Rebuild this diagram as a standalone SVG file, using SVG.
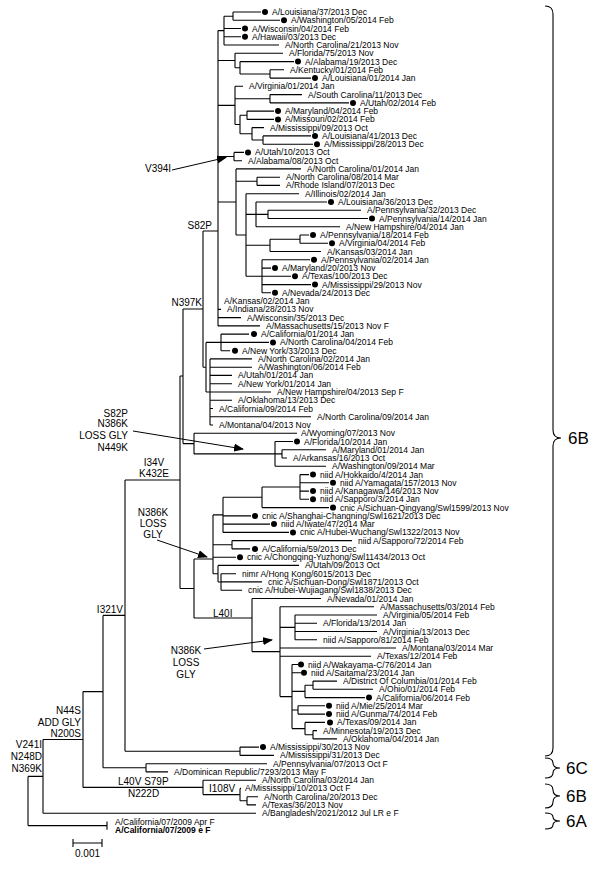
<svg xmlns="http://www.w3.org/2000/svg" width="600" height="869" viewBox="0 0 600 869">
<defs>
<style>
.t{font-family:"Liberation Sans",Arial,sans-serif;font-size:8.5px;fill:#000}
.b{font-weight:bold}
.m{font-family:"Liberation Sans",Arial,sans-serif;font-size:10px;fill:#000}
.c{font-family:"Liberation Sans",Arial,sans-serif;font-size:17px;fill:#000}
.l{stroke:#000;stroke-width:1.1;fill:none}
.br{stroke:#000;stroke-width:1.1;fill:none}
.a{stroke:#000;stroke-width:1;fill:none}
circle{fill:#000}
</style>
<marker id="ah" markerWidth="10" markerHeight="8" refX="9" refY="4" orient="auto" markerUnits="userSpaceOnUse">
<path d="M0,0 L10,4 L0,8 Z" fill="#000"/>
</marker>
</defs>
<rect width="600" height="869" fill="#fff"/>
<g id="connectors" class="l">
<path d="M233 12V20.3 M233 12H261 M233 20.3H280 M224 16.2V45 M224 16.2H233 M224 28.5H241 M224 36.8H241 M224 45H279 M218 30.6H224
M270 69.8V78.1 M270 69.8H284 M270 78.1H311 M240 61.6V74 M240 61.6H294 M240 74H270 M235 53.3V67.8 M235 53.3H283 M235 67.8H240 M218 60.5H235
M270 94.6V102.9 M270 94.6H302 M270 102.9H349 M247 111.1V119.4 M247 111.1H274 M247 119.4H274 M263 135.9V144.2 M263 135.9H311 M263 144.2H313
M252 127.6V140 M252 127.6H264 M252 140H263 M240 115.2V133.8 M240 115.2H247 M240 133.8H252 M235 86.3V124.5 M235 86.3H243 M235 98.7H270 M235 124.5H240 M218 105.4H235
M234 152.4V160.7 M234 152.4H244 M234 160.7H242 M218 156.5H234
M236 168.9H301 M257 177.2V185.4 M257 177.2H280 M257 185.4H280 M236 181.3H257
M268 210.2V218.5 M268 210.2H361 M268 218.5H368 M256 202V226.8 M256 202H327 M256 214.4H268 M256 226.8H340
M300 235V243.3 M300 235H309 M300 243.3H328 M270 239.2V251.5 M270 239.2H300 M270 251.5H321
M262 259.8V292.8 M262 259.8H310 M262 268.1H271 M262 276.3H291 M262 284.6H311 M262 292.8H271
M246 193.7V276.3 M246 193.7H299 M246 214.4H256 M246 245.3H270 M246 276.3H262 M236 168.9V235 M236 235H246 M218 202H236
M218 309.4H221 M218 317.6H241 M218 325.9H260 M218 30.6V325.9 M203 231H218
M221 334.1V350.7 M221 334.1H249 M221 342.4H269 M221 350.7H230
M210 358.9V425 M210 358.9H252 M210 367.2H252 M210 375.4H232 M210 383.7H232 M210 392H271 M210 400.2H232 M210 408.5H213 M210 416.7H311 M210 425H213
M206 342.4V392 M206 342.4H221 M206 392H210 M203 231V367.2 M203 367.2H206 M183 309H203
M183 309V443.6 M194 433.3V453.9 M194 433.3H297 M194 453.9H275 M183 443.6H194
M275 441.5V466.3 M275 441.5H293 M275 453.9H282 M275 466.3H326 M282 449.8V458 M282 449.8H326 M282 458H287
M180 376V588.5 M180 376H183 M125 480H180
M300 474.6V499.3 M300 474.6H309 M300 482.8H329 M300 491.1H309 M300 499.3H309 M262 487V507.6 M262 487H300 M262 507.6H329
M223 497.3V532.4 M223 497.3H262 M223 515.9H251 M223 524.1H270 M223 532.4H289 M232 540.6V548.9 M232 540.6H352 M232 548.9H250
M221 573.7V590.2 M221 573.7H236 M221 581.9H262 M221 590.2H242 M218 565.4V582 M218 565.4H299 M218 582H221
M213 514.9V573.7 M213 514.9H223 M213 544.8H232 M213 557.2H236 M213 573.7H218
M194 559V618 M194 559H213 M180 588.5H194 M194 618H252
M252 598.5V651.6 M252 598.5H321 M252 651.6H280 M280 606.7V696.6 M280 606.7H374 M280 627.4H295 M280 648H396 M280 656.3H371 M280 696.6H292
M295 615V639.8 M295 615H377 M295 623.2H317 M295 631.5H377 M295 639.8H317
M292 664.5V728.6 M292 664.5H298 M292 672.8H301 M292 691.4H305 M292 710H298 M292 728.6H305
M313 681.1V689.3 M313 681.1H337 M313 689.3H373 M305 685.2V697.6 M305 685.2H313 M305 697.6H365 M298 705.8V714.1 M298 705.8H325 M298 714.1H325
M313 730.6V738.9 M313 730.6H317 M313 738.9H337 M305 722.4V734.8 M305 722.4H325 M305 734.8H313
M240 747.1V755.4 M240 747.1H259 M240 755.4H274 M125 751.3H240 M125 480V751.3 M103 615.4H125
M146 763.7V771.9 M146 763.7H267 M146 771.9H168 M103 767.8H146 M103 615.4V767.8 M83 691.6H103
M203 780.2V794.6 M203 780.2H256 M203 794.6H240 M240 788.4V800.8 M240 788.4H241 M240 800.8H247 M247 796.7V804.9 M247 796.7H258 M247 804.9H256 M83 787.4H203
M83 691.6V787.4 M43 739.5H83 M43 739.5V813.2 M43 813.2H256 M28 776.4H43 M28 776.4V825.6 M28 825.6H107 M107 821.5V829.7"/>
<path class="a" marker-end="url(#ah)" d="M172 170L226 157.5"/>
<path class="a" marker-end="url(#ah)" d="M133 431L243 449"/>
<path class="a" marker-end="url(#ah)" d="M157 540L207 557"/>
<path class="a" marker-end="url(#ah)" d="M204 649L272 640"/>
</g>
<g id="labels" class="m">
<text x="145" y="172">V394I</text>
<text x="212" y="229" text-anchor="end">S82P</text>
<text x="202" y="306" text-anchor="end">N397K</text>
<g text-anchor="end"><text x="128" y="416.5">S82P</text><text x="128" y="427">N386K</text><text x="128" y="438.5">LOSS GLY</text><text x="128" y="450.5">N449K</text></g>
<g text-anchor="middle"><text x="154" y="465.5">I34V</text><text x="154" y="477">K432E</text></g>
<g text-anchor="middle"><text x="153" y="515.5">N386K</text><text x="153" y="527">LOSS</text><text x="153" y="538">GLY</text></g>
<text x="123" y="612.5" text-anchor="end">I321V</text>
<text x="213" y="616.5">L40I</text>
<g text-anchor="middle"><text x="186" y="653.5">N386K</text><text x="186" y="665.5">LOSS</text><text x="186" y="677.5">GLY</text></g>
<g text-anchor="end"><text x="81" y="713.5">N44S</text><text x="81" y="725.5">ADD GLY</text><text x="81" y="736.5">N200S</text></g>
<g text-anchor="end"><text x="42" y="747.5">V241I</text><text x="42" y="759.5">N248D</text><text x="42" y="771.5">N369K</text></g>
<text x="118" y="784.5">L40V  S79P</text>
<text x="128" y="797">N222D</text>
<text x="209" y="792">I108V</text>
</g>
<g id="leaves" class="t">
<g id="n1"><circle cx="265" cy="12" r="3"/><text x="272" y="15">A/Louisiana/37/2013 Dec</text></g>
<g id="n2"><circle cx="284" cy="20.3" r="3"/><text x="291" y="23.3">A/Washington/05/2014 Feb</text></g>
<g id="n3"><circle cx="245" cy="28.5" r="3"/><text x="252" y="31.5">A/Wisconsin/04/2014 Feb</text></g>
<g id="n4"><circle cx="245" cy="36.8" r="3"/><text x="252" y="39.8">A/Hawaii/03/2013 Dec</text></g>
<g id="n5"><text x="285" y="48">A/North Carolina/21/2013 Nov</text></g>
<g id="n6"><text x="289" y="56.3">A/Florida/75/2013 Nov</text></g>
<g id="n7"><circle cx="298" cy="61.6" r="3"/><text x="305" y="64.6">A/Alabama/19/2013 Dec</text></g>
<g id="n8"><text x="290" y="72.8">A/Kentucky/01/2014 Feb</text></g>
<g id="n9"><circle cx="315" cy="78.1" r="3"/><text x="322" y="81.1">A/Louisiana/01/2014 Jan</text></g>
<g id="n10"><text x="249" y="89.3">A/Virginia/01/2014 Jan</text></g>
<g id="n11"><text x="308" y="97.6">A/South Carolina/11/2013 Dec</text></g>
<g id="n12"><circle cx="353" cy="102.9" r="3"/><text x="360" y="105.9">A/Utah/02/2014 Feb</text></g>
<g id="n13"><circle cx="278" cy="111.1" r="3"/><text x="285" y="114.1">A/Maryland/04/2014 Feb</text></g>
<g id="n14"><circle cx="278" cy="119.4" r="3"/><text x="285" y="122.4">A/Missouri/02/2014 Feb</text></g>
<g id="n15"><text x="270" y="130.6">A/Mississippi/09/2013 Oct</text></g>
<g id="n16"><circle cx="315" cy="135.9" r="3"/><text x="322" y="138.9">A/Louisiana/41/2013 Dec</text></g>
<g id="n17"><circle cx="317" cy="144.2" r="3"/><text x="324" y="147.2">A/Mississippi/28/2013 Dec</text></g>
<g id="n18"><circle cx="248" cy="152.4" r="3"/><text x="255" y="155.4">A/Utah/10/2013 Oct</text></g>
<g id="n19"><text x="248" y="163.7">A/Alabama/08/2013 Oct</text></g>
<g id="n20"><text x="307" y="171.9">A/North Carolina/01/2014 Jan</text></g>
<g id="n21"><text x="286" y="180.2">A/North Carolina/08/2014 Mar</text></g>
<g id="n22"><text x="286" y="188.4">A/Rhode Island/07/2013 Dec</text></g>
<g id="n23"><text x="305" y="196.7">A/Illinois/02/2014 Jan</text></g>
<g id="n24"><circle cx="331" cy="202" r="3"/><text x="338" y="205">A/Louisiana/36/2013 Dec</text></g>
<g id="n25"><text x="367" y="213.2">A/Pennsylvania/32/2013 Dec</text></g>
<g id="n26"><circle cx="372" cy="218.5" r="3"/><text x="379" y="221.5">A/Pennsylvania/14/2014 Jan</text></g>
<g id="n27"><text x="346" y="229.8">A/New Hampshire/04/2014 Jan</text></g>
<g id="n28"><circle cx="313" cy="235" r="3"/><text x="320" y="238">A/Pennsylvania/18/2014 Feb</text></g>
<g id="n29"><circle cx="332" cy="243.3" r="3"/><text x="339" y="246.3">A/Virginia/04/2014 Feb</text></g>
<g id="n30"><text x="327" y="254.5">A/Kansas/03/2014 Jan</text></g>
<g id="n31"><circle cx="314" cy="259.8" r="3"/><text x="321" y="262.8">A/Pennsylvania/02/2014 Jan</text></g>
<g id="n32"><circle cx="275" cy="268.1" r="3"/><text x="282" y="271.1">A/Maryland/20/2013 Nov</text></g>
<g id="n33"><circle cx="295" cy="276.3" r="3"/><text x="302" y="279.3">A/Texas/100/2013 Dec</text></g>
<g id="n34"><circle cx="315" cy="284.6" r="3"/><text x="322" y="287.6">A/Mississippi/29/2013 Nov</text></g>
<g id="n35"><circle cx="275" cy="292.8" r="3"/><text x="282" y="295.8">A/Nevada/24/2013 Dec</text></g>
<g id="n36"><text x="224" y="304.1">A/Kansas/02/2014 Jan</text></g>
<g id="n37"><text x="227" y="312.4">A/Indiana/28/2013 Nov</text></g>
<g id="n38"><text x="247" y="320.6">A/Wisconsin/35/2013 Dec</text></g>
<g id="n39"><text x="266" y="328.9">A/Massachusetts/15/2013 Nov F</text></g>
<g id="n40"><circle cx="254" cy="334.1" r="3"/><text x="261" y="337.1">A/California/01/2014 Jan</text></g>
<g id="n41"><circle cx="273" cy="342.4" r="3"/><text x="280" y="345.4">A/North Carolina/04/2014 Feb</text></g>
<g id="n42"><circle cx="235" cy="350.7" r="3"/><text x="242" y="353.7">A/New York/33/2013 Dec</text></g>
<g id="n43"><text x="258" y="361.9">A/North Carolina/02/2014 Jan</text></g>
<g id="n44"><text x="258" y="370.2">A/Washington/06/2014 Feb</text></g>
<g id="n45"><text x="238" y="378.4">A/Utah/01/2014 Jan</text></g>
<g id="n46"><text x="238" y="386.7">A/New York/01/2014 Jan</text></g>
<g id="n47"><text x="277" y="395">A/New Hampshire/04/2013 Sep F</text></g>
<g id="n48"><text x="238" y="403.2">A/Oklahoma/13/2013 Dec</text></g>
<g id="n49"><text x="219" y="411.5">A/California/09/2014 Feb</text></g>
<g id="n50"><text x="317" y="419.7">A/North Carolina/09/2014 Jan</text></g>
<g id="n51"><text x="219" y="428">A/Montana/04/2013 Nov</text></g>
<g id="n52"><text x="301" y="436.3">A/Wyoming/07/2013 Nov</text></g>
<g id="n53"><circle cx="297" cy="441.5" r="3"/><text x="304" y="444.5">A/Florida/10/2014 Jan</text></g>
<g id="n54"><text x="332" y="452.8">A/Maryland/01/2014 Jan</text></g>
<g id="n55"><text x="293" y="461">A/Arkansas/16/2013 Oct</text></g>
<g id="n56"><text x="332" y="469.3">A/Washington/09/2014 Mar</text></g>
<g id="n57"><circle cx="313" cy="474.6" r="3"/><text x="320" y="477.6">niid A/Hokkaido/4/2014 Jan</text></g>
<g id="n58"><circle cx="333" cy="482.8" r="3"/><text x="340" y="485.8">niid A/Yamagata/157/2013 Nov</text></g>
<g id="n59"><circle cx="313" cy="491.1" r="3"/><text x="320" y="494.1">niid A/Kanagawa/146/2013 Nov</text></g>
<g id="n60"><circle cx="313" cy="499.3" r="3"/><text x="320" y="502.3">niid A/Sapporo/3/2014 Jan</text></g>
<g id="n61"><circle cx="333" cy="507.6" r="3"/><text x="340" y="510.6">cnic A/Sichuan-Qingyang/Swl1599/2013 Nov</text></g>
<g id="n62"><circle cx="255" cy="515.9" r="3"/><text x="262" y="518.9">cnic A/Shanghai-Changning/Swl1621/2013 Dec</text></g>
<g id="n63"><circle cx="274" cy="524.1" r="3"/><text x="281" y="527.1">niid A/Iwate/47/2014 Mar</text></g>
<g id="n64"><circle cx="293" cy="532.4" r="3"/><text x="300" y="535.4">cnic A/Hubei-Wuchang/Swl1322/2013 Nov</text></g>
<g id="n65"><text x="358" y="543.6">niid A/Sapporo/72/2014 Feb</text></g>
<g id="n66"><circle cx="255" cy="548.9" r="3"/><text x="262" y="551.9">A/California/59/2013 Dec</text></g>
<g id="n67"><circle cx="240" cy="557.2" r="3"/><text x="247" y="560.2">cnic A/Chongqing-Yuzhong/Swl11434/2013 Oct</text></g>
<g id="n68"><text x="305" y="568.4">A/Utah/09/2013 Oct</text></g>
<g id="n69"><text x="242" y="576.7">nimr A/Hong Kong/6015/2013 Dec</text></g>
<g id="n70"><text x="268" y="584.9">cnic A/Sichuan-Dong/Swl1871/2013 Oct</text></g>
<g id="n71"><text x="248" y="593.2">cnic A/Hubei-Wujiagang/Swl1838/2013 Dec</text></g>
<g id="n72"><text x="327" y="601.5">A/Nevada/01/2014 Jan</text></g>
<g id="n73"><text x="380" y="609.7">A/Massachusetts/03/2014 Feb</text></g>
<g id="n74"><text x="383" y="618">A/Virginia/05/2014 Feb</text></g>
<g id="n75"><text x="323" y="626.2">A/Florida/13/2014 Jan</text></g>
<g id="n76"><text x="383" y="634.5">A/Virginia/13/2013 Dec</text></g>
<g id="n77"><text x="323" y="642.8">niid A/Sapporo/81/2014 Feb</text></g>
<g id="n78"><text x="402" y="651">A/Montana/03/2014 Mar</text></g>
<g id="n79"><text x="377" y="659.3">A/Texas/12/2014 Feb</text></g>
<g id="n80"><circle cx="301" cy="664.5" r="3"/><text x="308" y="667.5">niid A/Wakayama-C/76/2014 Jan</text></g>
<g id="n81"><circle cx="304" cy="672.8" r="3"/><text x="311" y="675.8">niid A/Saitama/23/2014 Jan</text></g>
<g id="n82"><text x="343" y="684.1">A/District Of Columbia/01/2014 Feb</text></g>
<g id="n83"><text x="379" y="692.3">A/Ohio/01/2014 Feb</text></g>
<g id="n84"><circle cx="369" cy="697.6" r="3"/><text x="376" y="700.6">A/California/06/2014 Feb</text></g>
<g id="n85"><circle cx="329" cy="705.8" r="3"/><text x="336" y="708.8">niid A/Mie/25/2014 Mar</text></g>
<g id="n86"><circle cx="329" cy="714.1" r="3"/><text x="336" y="717.1">niid A/Gunma/74/2014 Feb</text></g>
<g id="n87"><circle cx="330" cy="722.4" r="3"/><text x="337" y="725.4">A/Texas/09/2014 Jan</text></g>
<g id="n88"><text x="323" y="733.6">A/Minnesota/19/2013 Dec</text></g>
<g id="n89"><text x="343" y="741.9">A/Oklahoma/04/2014 Jan</text></g>
<g id="n90"><circle cx="263" cy="747.1" r="3"/><text x="270" y="750.1">A/Mississippi/30/2013 Nov</text></g>
<g id="n91"><text x="280" y="758.4">A/Mississippi/31/2013 Dec</text></g>
<g id="n92"><text x="273" y="766.7">A/Pennsylvania/07/2013 Oct F</text></g>
<g id="n93"><text x="174" y="774.9">A/Dominican Republic/7293/2013 May F</text></g>
<g id="n94"><text x="262" y="783.2">A/North Carolina/03/2014 Jan</text></g>
<g id="n95"><text x="245" y="791.4">A/Mississippi/10/2013 Oct F</text></g>
<g id="n96"><text x="264" y="799.7">A/North Carolina/20/2013 Dec</text></g>
<g id="n97"><text x="262" y="807.9">A/Texas/36/2013 Nov</text></g>
<g id="n98"><text x="262" y="816.2">A/Bangladesh/2021/2012 Jul LR e F</text></g>
<g id="n99"><text x="115" y="824.5">A/California/07/2009 Apr F</text></g>
<g id="n100"><text x="115" y="832.7" class="b">A/California/07/2009 e F</text></g>
</g>
<g id="scale">
<path class="l" d="M73 843H102 M73 839V847 M102 839V847"/>
<text class="m" x="87.5" y="857" text-anchor="middle">0.001</text>
</g>
<g id="clades">
<path class="br" d="M545 6Q553 6 553 14V430Q553 438 561 438Q553 438 553 446V748Q553 756 545 756"/>
<text class="c" x="568" y="444">6B</text>
<path class="br" d="M545 758Q553 758 553 763Q553 768 560 768Q553 768 553 773Q553 778 545 778"/>
<text class="c" x="566" y="774">6C</text>
<path class="br" d="M545 784Q553 784 553 790Q553 796 560 796Q553 796 553 802Q553 808 545 808"/>
<text class="c" x="566" y="802">6B</text>
<path class="br" d="M545 813Q553 813 553 817Q553 821 560 821Q553 821 553 825Q553 829 545 829"/>
<text class="c" x="566" y="827">6A</text>
</g>
</svg>
